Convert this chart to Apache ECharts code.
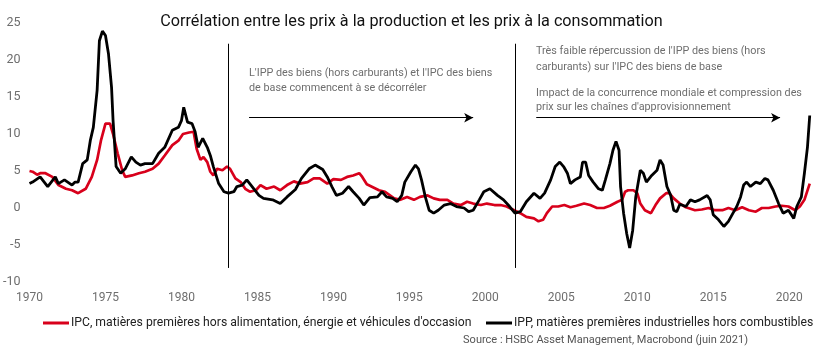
<!DOCTYPE html>
<html>
<head>
<meta charset="utf-8">
<script src="https://cdn.jsdelivr.net/npm/echarts@6/dist/echarts.min.js"></script>
<style>
  html, body { margin: 0; padding: 0; background: #fff; }
  #main { width: 823px; height: 352px; }
</style>
</head>
<body>
<div id="main"></div>
<script>
const FONT = "Roboto, sans-serif";

// IPC, matières premières hors alimentation, énergie et véhicules d'occasion (red)
const ipcYears = [
  1970.0, 1970.2, 1970.5, 1970.7, 1971.05, 1971.5, 1971.9, 1972.4, 1972.8, 1973.2,
  1973.7, 1974.1, 1974.45, 1974.7, 1975.0, 1975.3, 1975.5, 1975.8, 1976.1, 1976.3,
  1976.75, 1977.2, 1977.6, 1978.1, 1978.5, 1978.9, 1979.4, 1979.8, 1980.1, 1980.5,
  1980.8, 1981.0, 1981.25, 1981.45, 1981.7, 1981.9, 1982.1, 1982.35, 1982.7, 1983.0,
  1983.2, 1983.55, 1983.9, 1984.2, 1984.5, 1984.9, 1985.2, 1985.6, 1986.1, 1986.5,
  1986.95, 1987.4, 1987.8, 1988.3, 1988.7, 1989.1, 1989.6, 1990.0, 1990.5, 1990.9,
  1991.3, 1991.7, 1991.9, 1992.2, 1992.5, 1993.0, 1993.4, 1994.0, 1994.4, 1994.85,
  1995.3, 1995.7, 1996.2, 1996.6, 1997.0, 1997.5, 1997.9, 1998.4, 1998.8, 1999.2,
  1999.7, 2000.1, 2000.6, 2001.0, 2001.4, 2001.9, 2002.3, 2002.7, 2003.2, 2003.5,
  2003.8, 2004.05, 2004.4, 2004.8, 2005.2, 2005.6, 2006.0, 2006.5, 2006.9, 2007.35,
  2007.8, 2008.2, 2008.7, 2009.0, 2009.2, 2009.4, 2009.75, 2010.0, 2010.2, 2010.5,
  2010.9, 2011.2, 2011.5, 2011.9, 2012.1, 2012.4, 2012.8, 2013.2, 2013.8, 2014.25,
  2014.7, 2015.1, 2015.6, 2016.0, 2016.45, 2016.9, 2017.35, 2017.8, 2018.2, 2018.65,
  2019.1, 2019.5, 2019.95, 2020.4, 2020.7, 2021.0, 2021.35
];
const ipcValues = [
  5.0, 4.9, 4.5, 4.7, 4.7, 4.2, 3.1, 2.6, 2.4, 2.0,
  2.6, 4.2, 6.5, 9.1, 11.4, 11.4, 10.0, 7.4, 5.1, 4.2,
  4.4, 4.7, 4.9, 5.3, 6.0, 7.1, 8.5, 9.1, 10.0, 10.2,
  10.3, 8.0, 6.5, 6.9, 6.2, 4.9, 4.4, 5.3, 5.1, 5.6,
  5.3, 4.0, 3.5, 2.6, 2.2, 2.4, 3.1, 2.6, 2.9, 2.4,
  3.1, 3.6, 3.3, 3.5, 4.0, 4.0, 3.3, 3.9, 3.8, 4.2,
  4.4, 4.7, 4.2, 3.2, 2.9, 2.4, 2.2, 1.3, 1.1, 1.5,
  1.1, 1.5, 1.7, 1.3, 1.1, 1.1, 0.6, 0.4, 0.85, 0.6,
  0.4, 0.6, 0.4, 0.4, 0.2, -0.3, -0.7, -1.2, -1.4, -1.8,
  -1.6, -0.7, 0.2, 0.2, 0.4, 0.1, 0.3, 0.6, 0.4, 0.0,
  0.0, 0.3, 0.85, 1.1, 2.2, 2.4, 2.4, 2.0, 0.6, -0.3,
  -0.7, 0.4, 1.3, 2.0, 2.0, 1.3, 0.6, 0.1, -0.3, -0.2,
  0.0, -0.3, -0.3, 0.0, -0.3, 0.1, -0.3, -0.5, 0.0, 0.0,
  0.2, 0.3, 0.2, -0.3, 0.2, 1.1, 3.3
];

// IPP, matières premières industrielles hors combustibles (black)
const ippYears = [
  1970.0, 1970.2, 1970.7, 1971.2, 1971.7, 1971.9, 1972.3, 1972.8, 1973.0, 1973.2,
  1973.5, 1973.8, 1974.0, 1974.2, 1974.45, 1974.6, 1974.8, 1975.0, 1975.2, 1975.4,
  1975.5, 1975.7, 1976.0, 1976.3, 1976.7, 1977.0, 1977.3, 1977.6, 1978.1, 1978.5,
  1978.9, 1979.4, 1979.8, 1980.0, 1980.15, 1980.4, 1980.7, 1980.9, 1981.1, 1981.4,
  1981.7, 1981.9, 1982.1, 1982.45, 1982.8, 1983.1, 1983.45, 1983.65, 1984.0, 1984.3,
  1984.65, 1985.1, 1985.4, 1986.0, 1986.5, 1986.95, 1987.5, 1987.9, 1988.4, 1988.8,
  1989.3, 1989.6, 1989.9, 1990.2, 1990.6, 1991.0, 1991.3, 1991.7, 1992.0, 1992.4,
  1992.9, 1993.2, 1993.5, 1993.9, 1994.2, 1994.5, 1994.7, 1995.1, 1995.4, 1995.6,
  1995.8, 1996.05, 1996.3, 1996.6, 1996.9, 1997.3, 1997.7, 1998.1, 1998.6, 1998.9,
  1999.2, 1999.6, 1999.9, 2000.3, 2000.8, 2001.2, 2001.6, 2001.95, 2002.3, 2002.7,
  2003.2, 2003.6, 2003.9, 2004.3, 2004.6, 2004.9, 2005.15, 2005.4, 2005.6, 2005.9,
  2006.25, 2006.4, 2006.6, 2006.8, 2007.1, 2007.45, 2007.7, 2007.9, 2008.2, 2008.4,
  2008.6, 2008.8, 2008.9, 2009.1, 2009.3, 2009.5, 2009.7, 2009.9, 2010.2, 2010.4,
  2010.6, 2010.95, 2011.3, 2011.5, 2011.7, 2011.95, 2012.2, 2012.4, 2012.6, 2012.8,
  2013.2, 2013.5, 2013.8, 2014.1, 2014.6, 2014.8, 2015.0, 2015.35, 2015.7, 2016.0,
  2016.3, 2016.55, 2016.8, 2017.0, 2017.2, 2017.45, 2017.8, 2018.1, 2018.4, 2018.6,
  2018.95, 2019.3, 2019.6, 2019.95, 2020.3, 2020.5, 2020.8, 2021.0, 2021.2, 2021.35
];
const ippValues = [
  3.3, 3.5, 4.2, 2.9, 4.2, 3.3, 3.8, 3.1, 3.5, 3.5,
  6.0, 6.5, 9.1, 10.9, 15.9, 22.6, 23.9, 23.3, 20.8, 16.3,
  11.8, 5.6, 4.7, 5.3, 6.9, 6.2, 5.8, 6.0, 6.0, 7.4,
  8.2, 10.5, 10.9, 11.8, 13.6, 11.6, 11.4, 10.3, 8.2, 9.4,
  8.2, 7.1, 5.6, 3.3, 2.2, 2.0, 2.2, 2.9, 3.1, 3.8,
  2.9, 1.7, 1.3, 1.1, 0.6, 1.5, 2.5, 4.0, 5.3, 5.8,
  5.2, 4.2, 2.9, 1.7, 2.0, 2.9, 2.2, 1.3, 0.4, 1.4,
  1.5, 2.2, 1.5, 1.3, 0.85, 1.7, 3.5, 4.9, 5.8, 5.3,
  3.8, 1.5, -0.3, -0.7, -0.3, 0.4, 0.6, 0.2, 0.0, -0.5,
  -0.3, 1.1, 2.2, 2.6, 1.7, 1.1, 0.2, -0.7, -0.5, 0.85,
  2.0, 1.3, 2.0, 3.8, 5.6, 6.2, 5.6, 4.7, 3.3, 3.8,
  4.2, 6.2, 6.2, 4.4, 3.5, 2.6, 2.4, 3.8, 6.0, 7.8,
  9.0, 7.8, 2.9, -0.7, -3.4, -5.4, -3.0, 1.5, 5.1, 4.7,
  3.5, 4.4, 5.1, 6.5, 5.8, 2.9, 1.7, -0.3, -0.5, 0.5,
  0.2, 1.1, 0.85, 1.1, 1.7, 1.1, -0.9, -1.6, -2.5, -1.8,
  -0.7, 0.2, 1.5, 3.1, 3.5, 2.9, 3.5, 3.3, 4.0, 3.8,
  2.4, 0.6, -0.7, -0.3, -1.4, 0.2, 1.5, 4.7, 8.2, 12.5
];

const seriesNames = [
  "IPC, matières premières hors alimentation, énergie et véhicules d'occasion",
  "IPP, matières premières industrielles hors combustibles",
];
const yTicks = [-10, -5, 0, 5, 10, 15, 20, 25];
const xTicks = [1970, 1975, 1980, 1985, 1990, 1995, 2000, 2005, 2010, 2015, 2020];

const ipcData = ipcYears.map((y, i) => [y, ipcValues[i]]);
const ippData = ippYears.map((y, i) => [y, ippValues[i]]);

const myChart = echarts.init(document.getElementById("main"));

const greyText = "#6e6e6e";
const annot = { fontFamily: FONT, fontSize: 10.8, fill: greyText };

const legendBase = {
  top: 312,
  icon: "rect",
  itemWidth: 26,
  itemHeight: 3,
  textStyle: { fontFamily: FONT, fontSize: 12.2, color: "#222", padding: [0, 0, 0, -3] },
};

const options = {
  animation: false,
  backgroundColor: "#fff",
  textStyle: { fontFamily: FONT },
  title: {
    text: "Corrélation entre les prix à la production et les prix à la consommation",
    left: "center",
    top: 9,
    textStyle: { fontFamily: FONT, fontSize: 16.2, fontWeight: "normal", color: "#111" },
  },
  grid: { left: 29, right: 11, top: 23, bottom: 70 },
  legend: [
    Object.assign({ left: 38, data: [seriesNames[0]] }, legendBase),
    Object.assign({ left: 481, data: [seriesNames[1]] }, legendBase),
  ],
  xAxis: {
    type: "value",
    min: 1970,
    max: 2021.5,
    interval: 5,
    axisLine: { show: false, onZero: false },
    axisTick: { show: false },
    splitLine: { show: false },
    axisLabel: {
      color: greyText,
      fontFamily: FONT,
      fontSize: 12,
      margin: 10,
      formatter: (v) => (xTicks.includes(v) ? String(v) : ""),
    },
  },
  yAxis: {
    type: "value",
    min: yTicks[0],
    max: yTicks[yTicks.length - 1],
    interval: 5,
    axisLine: { show: false },
    axisTick: { show: false },
    splitLine: { show: false },
    axisLabel: { color: greyText, fontFamily: FONT, fontSize: 12.5, margin: 9 },
  },
  series: [
    {
      name: seriesNames[0],
      type: "line",
      data: ipcData,
      showSymbol: false,
      symbol: "none",
      lineStyle: { color: "#d8001b", width: 2.7 },
      itemStyle: { color: "#d8001b" },
      z: 2,
    },
    {
      name: seriesNames[1],
      type: "line",
      data: ippData,
      showSymbol: false,
      symbol: "none",
      lineStyle: { color: "#000", width: 2.8 },
      itemStyle: { color: "#000" },
      z: 3,
      markLine: {
        silent: true,
        animation: false,
        label: { show: false },
        lineStyle: { color: "#000", width: 1, type: "solid" },
        data: [
          [{ coord: [1983.1, 22.2], symbol: "none" }, { coord: [1983.1, -8.1], symbol: "none" }],
          [{ coord: [2002.0, 22.2], symbol: "none" }, { coord: [2002.0, -8.1], symbol: "none" }],
          [{ coord: [1984.45, 12.2], symbol: "none" }, { coord: [1999.2, 12.2], symbol: "arrow", symbolSize: [7, 9] }],
          [{ coord: [2003.35, 12.2], symbol: "none" }, { coord: [2019.4, 12.2], symbol: "arrow", symbolSize: [7, 9] }],
        ],
      },
    },
  ],
  graphic: [
    { type: "text", left: 249, top: 68, style: Object.assign({ text: "L'IPP des biens (hors carburants) et l'IPC des biens" }, annot) },
    { type: "text", left: 249, top: 83, style: Object.assign({ text: "de base commencent à se décorréler" }, annot) },
    { type: "text", left: 536, top: 46, style: Object.assign({ text: "Très faible répercussion de l'IPP des biens (hors" }, annot) },
    { type: "text", left: 536, top: 62, style: Object.assign({ text: "carburants) sur l'IPC des biens de base" }, annot) },
    { type: "text", left: 536, top: 88, style: Object.assign({ text: "Impact de la concurrence mondiale et compression des" }, annot) },
    { type: "text", left: 536, top: 102, style: Object.assign({ text: "prix sur les chaînes d'approvisionnement" }, annot) },
    {
      type: "text",
      right: 75,
      top: 335,
      style: { text: "Source : HSBC Asset Management, Macrobond (juin 2021)", fontFamily: FONT, fontSize: 11, fill: "#555" },
    },
  ],
};

myChart.setOption(options);
</script>
</body>
</html>
